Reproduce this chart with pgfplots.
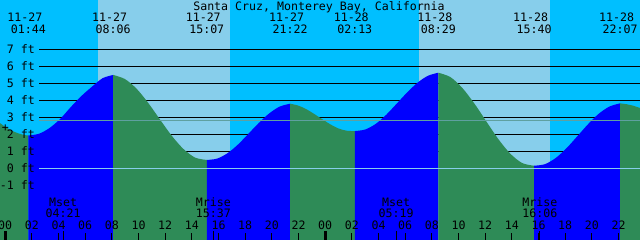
\documentclass[border=0pt]{standalone}
\usepackage{fontspec}
\setmainfont{DejaVu Sans Mono}
\usepackage{pgfplots}
\pgfplotsset{compat=1.18}
\definecolor{night}{HTML}{00BFFF}
\definecolor{day}{HTML}{87CEEB}
\definecolor{rise}{HTML}{0000FF}
\definecolor{fall}{HTML}{2E8B57}
\definecolor{msl}{HTML}{5FA0A0}
\definecolor{datum}{HTML}{87CEEB}
\newcommand{\tf}{\fontsize{11.6pt}{13pt}\selectfont}
\begin{document}
\begin{tikzpicture}
\useasboundingbox (0,0) rectangle (640pt,240pt);
\clip (0,0) rectangle (640pt,240pt);
\begin{axis}[
  at={(0,0)}, anchor=south west,
  width=640pt, height=240pt, scale only axis,
  xmin=-0.39, xmax=47.61, ymin=-4.218, ymax=9.9,
  axis line style={draw=none},
  axis on top,
  xtick={0,2,...,48},
  xticklabels={00,02,04,06,08,10,12,14,16,18,20,22,00,02,04,06,08,10,12,14,16,18,20,22,00},
  xtick pos=bottom, xtick align=inside,
  major tick length=7pt,
  tick style={black, line width=1pt},
  xticklabel style={font=\tf, anchor=base, yshift=10.7pt, inner sep=0pt},
  ytick={-1,0,...,7},
  yticklabels={-1 ft,0 ft,1 ft,2 ft,3 ft,4 ft,5 ft,6 ft,7 ft},
  ytick style={draw=none},
  ytick pos=left,
  yticklabel style={font=\tf, anchor=east, xshift=35pt, inner sep=0pt},
  extra x ticks={0,24,48},
  extra x tick labels={},
  extra x tick style={major tick length=9pt, tick style={line width=3pt}},
  clip=true,
]
% day / night background
\fill[night] (axis cs:-1,-5) rectangle (axis cs:49,11);
\fill[day] (axis cs:6.96,-5) rectangle (axis cs:16.86,11);
\fill[day] (axis cs:31.04,-5) rectangle (axis cs:40.86,11);
% grid lines
\draw[black, line width=1pt] (axis cs:2.535,1) -- (axis cs:48,1);
\draw[black, line width=1pt] (axis cs:2.535,2) -- (axis cs:48,2);
\draw[black, line width=1pt] (axis cs:2.535,3) -- (axis cs:48,3);
\draw[black, line width=1pt] (axis cs:2.535,4) -- (axis cs:48,4);
\draw[black, line width=1pt] (axis cs:2.535,5) -- (axis cs:48,5);
\draw[black, line width=1pt] (axis cs:2.535,6) -- (axis cs:48,6);
\draw[black, line width=1pt] (axis cs:2.535,7) -- (axis cs:48,7);
% tide curve: falling (green) and rising (blue)
\addplot[draw=none, fill=fall, smooth] coordinates {(-0.5,2.72) (-0.39,2.66) (0,2.44) (0.5,2.21) (1.0,2.05) (1.5,1.95) (1.733,1.93)} -- (axis cs:1.733,-5) -- (axis cs:-0.5,-5) -- cycle;
\addplot[draw=none, fill=rise, smooth] coordinates {(1.733,1.93) (2.529,2.03) (3.325,2.37) (4.121,2.90) (4.917,3.60) (5.712,4.25) (6.508,4.80) (7.304,5.30) (8.1,5.49)} -- (axis cs:8.1,-5) -- (axis cs:1.733,-5) -- cycle;
\addplot[draw=none, fill=fall, smooth] coordinates {(8.1,5.49) (8.977,5.25) (9.854,4.68) (10.731,3.84) (11.608,2.87) (12.485,1.92) (13.363,1.14) (14.240,0.63) (15.117,0.49)} -- (axis cs:15.117,-5) -- (axis cs:8.1,-5) -- cycle;
\addplot[draw=none, fill=rise, smooth] coordinates {(15.117,0.49) (15.898,0.57) (16.680,0.89) (17.461,1.40) (18.242,2.03) (19.023,2.67) (19.805,3.23) (20.586,3.63) (21.367,3.80)} -- (axis cs:21.367,-5) -- (axis cs:15.117,-5) -- cycle;
\addplot[draw=none, fill=fall, smooth] coordinates {(21.367,3.80) (21.973,3.69) (22.579,3.48) (23.186,3.19) (23.792,2.88) (24.398,2.58) (25.004,2.34) (25.611,2.21) (26.217,2.19)} -- (axis cs:26.217,-5) -- (axis cs:21.367,-5) -- cycle;
\addplot[draw=none, fill=rise, smooth] coordinates {(26.217,2.19) (27.000,2.28) (27.784,2.61) (28.567,3.14) (29.350,3.79) (30.133,4.45) (30.917,5.03) (31.700,5.44) (32.483,5.62)} -- (axis cs:32.483,-5) -- (axis cs:26.217,-5) -- cycle;
\addplot[draw=none, fill=fall, smooth] coordinates {(32.483,5.62) (33.381,5.37) (34.279,4.73) (35.177,3.82) (36.075,2.77) (36.973,1.73) (37.871,0.87) (38.769,0.31) (39.667,0.15)} -- (axis cs:39.667,-5) -- (axis cs:32.483,-5) -- cycle;
\addplot[draw=none, fill=rise, smooth] coordinates {(39.667,0.15) (40.473,0.24) (41.279,0.60) (42.086,1.17) (42.892,1.87) (43.698,2.58) (44.504,3.20) (45.311,3.63) (46.117,3.82)} -- (axis cs:46.117,-5) -- (axis cs:39.667,-5) -- cycle;
\addplot[draw=none, fill=fall, smooth] coordinates {(46.117,3.82) (46.6,3.77) (47.1,3.68) (47.61,3.55) (48.0,3.45)} -- (axis cs:48.0,-5) -- (axis cs:46.117,-5) -- cycle;
% datum and mean level lines
\draw[datum, line width=1pt] (axis cs:2.535,0) -- (axis cs:48,0);
\draw[msl, line width=1pt] (axis cs:2.535,2.82) -- (axis cs:48,2.82);
% moon event ticks
\draw[black, line width=1pt] (axis cs:4.35,-4.3) -- (axis cs:4.35,-3.69);
\draw[black, line width=1pt] (axis cs:15.617,-4.3) -- (axis cs:15.617,-3.69);
\draw[black, line width=1pt] (axis cs:29.317,-4.3) -- (axis cs:29.317,-3.69);
\draw[black, line width=1pt] (axis cs:40.1,-4.3) -- (axis cs:40.1,-3.69);
% title
\node[font=\tf, anchor=base, inner sep=0pt] at (axis cs:23.535,9.31) {Santa Cruz, Monterey Bay, California};
% tide event labels
\node[font=\tf, anchor=base, inner sep=0pt, xshift=-3.5pt] at (axis cs:1.733,8.62) {11-27};
\node[font=\tf, anchor=base, inner sep=0pt] at (axis cs:1.733,7.90) {01:44};
\node[font=\tf, anchor=base, inner sep=0pt, xshift=-3.5pt] at (axis cs:8.1,8.62) {11-27};
\node[font=\tf, anchor=base, inner sep=0pt] at (axis cs:8.1,7.90) {08:06};
\node[font=\tf, anchor=base, inner sep=0pt, xshift=-3.5pt] at (axis cs:15.117,8.62) {11-27};
\node[font=\tf, anchor=base, inner sep=0pt] at (axis cs:15.117,7.90) {15:07};
\node[font=\tf, anchor=base, inner sep=0pt, xshift=-3.5pt] at (axis cs:21.367,8.62) {11-27};
\node[font=\tf, anchor=base, inner sep=0pt] at (axis cs:21.367,7.90) {21:22};
\node[font=\tf, anchor=base, inner sep=0pt, xshift=-3.5pt] at (axis cs:26.217,8.62) {11-28};
\node[font=\tf, anchor=base, inner sep=0pt] at (axis cs:26.217,7.90) {02:13};
\node[font=\tf, anchor=base, inner sep=0pt, xshift=-3.5pt] at (axis cs:32.483,8.62) {11-28};
\node[font=\tf, anchor=base, inner sep=0pt] at (axis cs:32.483,7.90) {08:29};
\node[font=\tf, anchor=base, inner sep=0pt, xshift=-3.5pt] at (axis cs:39.667,8.62) {11-28};
\node[font=\tf, anchor=base, inner sep=0pt] at (axis cs:39.667,7.90) {15:40};
\node[font=\tf, anchor=base, inner sep=0pt, xshift=-3.5pt] at (axis cs:46.117,8.62) {11-28};
\node[font=\tf, anchor=base, inner sep=0pt] at (axis cs:46.117,7.90) {22:07};
% moon labels
\node[font=\tf, anchor=base, inner sep=0pt] at (axis cs:4.35,-2.26) {Mset};
\node[font=\tf, anchor=base, inner sep=0pt] at (axis cs:4.35,-2.90) {04:21};
\node[font=\tf, anchor=base, inner sep=0pt] at (axis cs:15.617,-2.26) {Mrise};
\node[font=\tf, anchor=base, inner sep=0pt] at (axis cs:15.617,-2.90) {15:37};
\node[font=\tf, anchor=base, inner sep=0pt] at (axis cs:29.317,-2.26) {Mset};
\node[font=\tf, anchor=base, inner sep=0pt] at (axis cs:29.317,-2.90) {05:19};
\node[font=\tf, anchor=base, inner sep=0pt] at (axis cs:40.1,-2.26) {Mrise};
\node[font=\tf, anchor=base, inner sep=0pt] at (axis cs:40.1,-2.90) {16:06};
% marker
\node[font=\tf, inner sep=0pt] at (axis cs:0.02,2.34) {+};
\end{axis}
\end{tikzpicture}
\end{document}
